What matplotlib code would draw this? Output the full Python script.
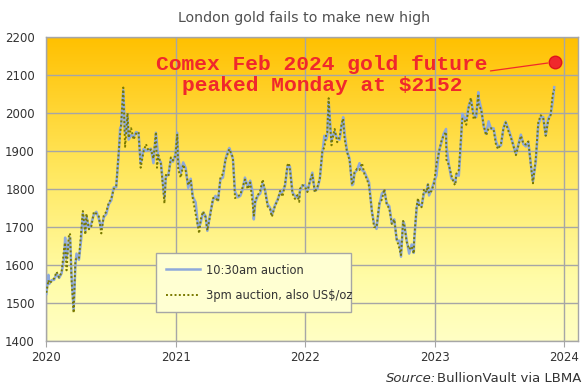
import numpy as np
import pandas as pd
import matplotlib
matplotlib.use("Agg")
from matplotlib import pyplot as plt
import matplotlib.dates as mdates
from matplotlib.colors import LinearSegmentedColormap

# weekly-ish readings of the London fix, US$/oz
dates = [
    "2020-01-02", "2020-01-08", "2020-01-10", "2020-01-17", "2020-01-24", "2020-01-31",
    "2020-02-07", "2020-02-14", "2020-02-21", "2020-02-24", "2020-02-28",
    "2020-03-06", "2020-03-09", "2020-03-13", "2020-03-19", "2020-03-24", "2020-03-27",
    "2020-04-03", "2020-04-09", "2020-04-14", "2020-04-21", "2020-04-24",
    "2020-05-01", "2020-05-08", "2020-05-15", "2020-05-22", "2020-05-29",
    "2020-06-05", "2020-06-12", "2020-06-19", "2020-06-26",
    "2020-07-03", "2020-07-10", "2020-07-17", "2020-07-24", "2020-07-28", "2020-07-31",
    "2020-08-06", "2020-08-11", "2020-08-14", "2020-08-18", "2020-08-21", "2020-08-28",
    "2020-09-04", "2020-09-11", "2020-09-18", "2020-09-24",
    "2020-10-02", "2020-10-09", "2020-10-16", "2020-10-23", "2020-10-30",
    "2020-11-06", "2020-11-09", "2020-11-13", "2020-11-20", "2020-11-30",
    "2020-12-04", "2020-12-11", "2020-12-18", "2020-12-24", "2020-12-31",
    "2021-01-05", "2021-01-08", "2021-01-15", "2021-01-22", "2021-01-29",
    "2021-02-05", "2021-02-12", "2021-02-18", "2021-02-26",
    "2021-03-05", "2021-03-08", "2021-03-12", "2021-03-19", "2021-03-26", "2021-03-31",
    "2021-04-09", "2021-04-16", "2021-04-23", "2021-04-30",
    "2021-05-07", "2021-05-14", "2021-05-21", "2021-05-28",
    "2021-06-01", "2021-06-11", "2021-06-17", "2021-06-25",
    "2021-07-02", "2021-07-09", "2021-07-15", "2021-07-23", "2021-07-30",
    "2021-08-06", "2021-08-09", "2021-08-13", "2021-08-20", "2021-08-27",
    "2021-09-03", "2021-09-10", "2021-09-17", "2021-09-24", "2021-09-29",
    "2021-10-08", "2021-10-15", "2021-10-22", "2021-10-29",
    "2021-11-05", "2021-11-12", "2021-11-16", "2021-11-19", "2021-11-26",
    "2021-12-03", "2021-12-10", "2021-12-15", "2021-12-17", "2021-12-24", "2021-12-31",
    "2022-01-07", "2022-01-14", "2022-01-21", "2022-01-28",
    "2022-02-04", "2022-02-11", "2022-02-18", "2022-02-24",
    "2022-03-01", "2022-03-04", "2022-03-08", "2022-03-11", "2022-03-16", "2022-03-18", "2022-03-25",
    "2022-04-01", "2022-04-08", "2022-04-14", "2022-04-18", "2022-04-22", "2022-04-29",
    "2022-05-06", "2022-05-13", "2022-05-16", "2022-05-20", "2022-05-27",
    "2022-06-03", "2022-06-10", "2022-06-17", "2022-06-24", "2022-06-30",
    "2022-07-08", "2022-07-14", "2022-07-21", "2022-07-29",
    "2022-08-05", "2022-08-12", "2022-08-19", "2022-08-26",
    "2022-09-02", "2022-09-09", "2022-09-16", "2022-09-23", "2022-09-28",
    "2022-10-04", "2022-10-07", "2022-10-14", "2022-10-21", "2022-10-28",
    "2022-11-03", "2022-11-04", "2022-11-11", "2022-11-15", "2022-11-18", "2022-11-25",
    "2022-12-02", "2022-12-09", "2022-12-13", "2022-12-16", "2022-12-23", "2022-12-30",
    "2023-01-06", "2023-01-13", "2023-01-20", "2023-01-26",
    "2023-02-02", "2023-02-03", "2023-02-10", "2023-02-17", "2023-02-24", "2023-02-28",
    "2023-03-03", "2023-03-10", "2023-03-15", "2023-03-20", "2023-03-24", "2023-03-31",
    "2023-04-06", "2023-04-13", "2023-04-21", "2023-04-28",
    "2023-05-04", "2023-05-05", "2023-05-12", "2023-05-19", "2023-05-26",
    "2023-06-02", "2023-06-09", "2023-06-16", "2023-06-23", "2023-06-29",
    "2023-07-07", "2023-07-14", "2023-07-20", "2023-07-28",
    "2023-08-04", "2023-08-11", "2023-08-18", "2023-08-25",
    "2023-09-01", "2023-09-08", "2023-09-15", "2023-09-22", "2023-09-29",
    "2023-10-05", "2023-10-13", "2023-10-20", "2023-10-27",
    "2023-11-03", "2023-11-10", "2023-11-17", "2023-11-24", "2023-11-28",
    "2023-12-01", "2023-12-04",
]

pm = [
    1527, 1560, 1552, 1557, 1565, 1582,
    1567, 1581, 1643, 1659, 1586,
    1683, 1681, 1562, 1474, 1613, 1617,
    1617, 1684, 1742, 1680, 1735,
    1694, 1702, 1740, 1735, 1728,
    1683, 1730, 1740, 1764,
    1774, 1800, 1807, 1897, 1944, 1972,
    2067, 1911, 1945, 2000, 1935, 1960,
    1930, 1946, 1950, 1856,
    1898, 1918, 1900, 1904, 1880,
    1950, 1856, 1889, 1866, 1762,
    1837, 1833, 1883, 1875, 1887,
    1943, 1851, 1830, 1864, 1848,
    1810, 1824, 1775, 1734,
    1698, 1683, 1719, 1741, 1726, 1691,
    1736, 1776, 1777, 1767,
    1831, 1840, 1876, 1895,
    1905, 1883, 1776, 1781,
    1785, 1807, 1825, 1800, 1817,
    1758, 1730, 1770, 1783, 1795,
    1825, 1793, 1754, 1747, 1727,
    1757, 1769, 1795, 1780,
    1813, 1863, 1868, 1850, 1788,
    1774, 1784, 1766, 1800, 1810, 1806,
    1792, 1821, 1838, 1791,
    1804, 1827, 1899, 1910,
    1943, 1949, 2039, 1985, 1915, 1929, 1958,
    1923, 1937, 1974, 1985, 1931, 1897,
    1876, 1812, 1815, 1844, 1853,
    1850, 1868, 1839, 1826, 1807,
    1742, 1700, 1699, 1763,
    1772, 1800, 1758, 1749,
    1708, 1720, 1667, 1645, 1626,
    1716, 1707, 1661, 1641, 1649,
    1630, 1668, 1754, 1776, 1754, 1752,
    1800, 1791, 1812, 1788, 1795, 1814,
    1866, 1897, 1926, 1940,
    1950, 1877, 1863, 1836, 1815, 1810,
    1840, 1850, 1920, 1985, 1985, 1969,
    2011, 2040, 1983, 1992,
    2050, 2018, 2010, 1968, 1941,
    1960, 1960, 1957, 1915, 1905,
    1920, 1960, 1975, 1952,
    1935, 1913, 1889, 1914,
    1940, 1920, 1917, 1925, 1864,
    1815, 1880, 1975, 1994,
    1987, 1940, 1980, 1995, 2035,
    2056, 2062,
]

am = [
    1524, 1574, 1550, 1560, 1561, 1577,
    1566, 1578, 1619, 1672, 1617,
    1669, 1672, 1575, 1482, 1600, 1630,
    1614, 1666, 1735, 1690, 1727,
    1697, 1710, 1733, 1740, 1722,
    1695, 1726, 1734, 1760,
    1770, 1804, 1805, 1892, 1960, 1965,
    2060, 1945, 1948, 1990, 1930, 1942,
    1937, 1950, 1947, 1866,
    1905, 1900, 1904, 1906, 1868,
    1948, 1920, 1880, 1870, 1776,
    1833, 1837, 1877, 1872, 1891,
    1948, 1880, 1842, 1870, 1855,
    1803, 1827, 1780, 1765,
    1700, 1700, 1711, 1738, 1729, 1690,
    1740, 1771, 1782, 1770,
    1826, 1830, 1878, 1900,
    1908, 1880, 1793, 1778,
    1782, 1800, 1830, 1806, 1822,
    1790, 1720, 1764, 1782, 1788,
    1815, 1796, 1760, 1750, 1732,
    1758, 1772, 1790, 1793,
    1808, 1860, 1862, 1858, 1791,
    1782, 1777, 1778, 1795, 1809, 1810,
    1795, 1818, 1843, 1795,
    1800, 1826, 1893, 1940,
    1930, 1940, 2030, 1990, 1925, 1935, 1950,
    1933, 1930, 1968, 1989, 1946, 1899,
    1880, 1810, 1812, 1842, 1850,
    1868, 1850, 1845, 1830, 1817,
    1740, 1710, 1695, 1758,
    1788, 1795, 1761, 1755,
    1710, 1720, 1665, 1664, 1622,
    1714, 1709, 1665, 1630, 1654,
    1632, 1660, 1748, 1770, 1760, 1755,
    1790, 1792, 1812, 1783, 1798, 1819,
    1835, 1900, 1922, 1945,
    1958, 1915, 1864, 1828, 1822, 1817,
    1838, 1835, 1906, 1998, 1990, 1980,
    2016, 2034, 1998, 1989,
    2055, 2039, 2012, 1965, 1945,
    1978, 1958, 1960, 1925, 1910,
    1915, 1961, 1977, 1958,
    1938, 1915, 1892, 1917,
    1943, 1918, 1912, 1924, 1866,
    1820, 1872, 1968, 1989,
    1989, 1941, 1985, 1996, 2018,
    2040, 2068,
]

assert len(dates) == len(pm) == len(am)

comex_date = "2023-12-05"
comex_peak = 2134
note = "Comex Feb 2024 gold future\npeaked Monday at $2152"

x = pd.to_datetime(dates)

fig = plt.figure(figsize=(5.85, 3.89), dpi=100)
ax = fig.add_axes([0.0786, 0.1234, 0.9094, 0.7815])

# yellow gradient background
cmap = LinearSegmentedColormap.from_list(
    "gold", [(0.0, "#FFFFC4"), (0.2, "#FFFCA8"), (0.55, "#FFE860"), (1.0, "#FFC000")])
grad = np.linspace(0, 1, 256).reshape(-1, 1)
ax.imshow(grad, cmap=cmap, aspect="auto", origin="lower",
          extent=[0, 1, 0, 1], transform=ax.transAxes, zorder=0)

ax.plot(x, am, color="#8EA9DB", linewidth=1.8, label="10:30am auction", zorder=3)
ax.plot(x, pm, color="#7A7A00", linewidth=1.4, linestyle=(0, (1, 1.2)),
        label="3pm auction, also US$/oz", zorder=4)

ax.set_xlim(pd.Timestamp("2020-01-01"), pd.Timestamp("2024-02-09"))
ax.set_ylim(1400, 2200)
ax.set_yticks(np.arange(1400, 2201, 100))
ax.xaxis.set_major_locator(mdates.YearLocator())
ax.xaxis.set_major_formatter(mdates.DateFormatter("%Y"))

ax.grid(True, color="#A6A6A6", linewidth=1.0, zorder=1)
ax.set_axisbelow(True)
for s in ax.spines.values():
    s.set_color("#A6A6A6")
    s.set_linewidth(1.0)
ax.tick_params(axis="x", length=4, color="#A6A6A6", labelsize=8.5,
               labelcolor="#333333", pad=3)
ax.tick_params(axis="y", length=0, labelsize=8.5, labelcolor="#333333", pad=8)

# comex marker and note
ax.plot(pd.Timestamp(comex_date), comex_peak, "o", markersize=9,
        markerfacecolor="#F0282C", markeredgecolor="#E0141C", zorder=6)
ax.annotate(note, xy=(pd.Timestamp(comex_date), comex_peak),
            xytext=(pd.Timestamp("2022-02-17"), 2100),
            ha="center", va="center", multialignment="center",
            fontsize=15.3, fontweight="bold", family="Liberation Mono",
            color="#F0282C", linespacing=1.15, zorder=6,
            arrowprops=dict(arrowstyle="-", color="#F0282C", linewidth=0.9,
                            relpos=(0.99, 0.58), shrinkA=0, shrinkB=5))

leg = ax.legend(loc="lower left", bbox_to_anchor=(0.2068, 0.0954, 0.3665, 0.19),
                mode="expand", borderaxespad=0, fontsize=8.3, frameon=True,
                fancybox=False, framealpha=1, facecolor="#FFFFD2",
                edgecolor="#A6A6A6", handlelength=2.9, handletextpad=0.5,
                labelspacing=1.05, borderpad=0.9, labelcolor="#333333")
leg.get_frame().set_linewidth(1.0)
leg.set_zorder(7)

fig.text(0.519, 0.955, "London gold fails to make new high", ha="center", va="center",
         fontsize=10.2, color="#505050")
fig.text(0.745, 0.028, "Source:", ha="right", va="center", fontsize=9.5,
         style="italic", color="#333333")
fig.text(0.747, 0.028, "BullionVault via LBMA", ha="left", va="center",
         fontsize=9.5, color="#333333")

fig.savefig("out.png", dpi=100)
